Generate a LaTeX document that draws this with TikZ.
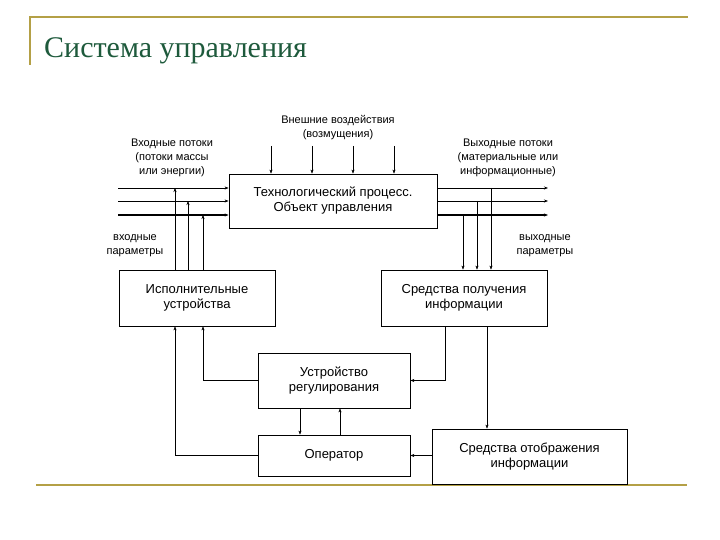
\documentclass[tikz,border=0pt]{standalone}
\usepackage{fontspec}
\setmainfont{Liberation Sans}
\newfontfamily\titlefont{Liberation Serif}
\usetikzlibrary{arrows.meta}
\definecolor{olive}{RGB}{180,160,70}
\definecolor{ttl}{RGB}{30,90,60}
\begin{document}
\begin{tikzpicture}[x=1pt,y=-1pt,
  box/.style={draw,thick,align=center,font=\fontsize{13}{15}\selectfont,inner sep=0pt},
  lbl/.style={align=center,font=\fontsize{11}{14}\selectfont},
  arr/.style={-{Stealth[length=4pt,width=3pt]},thin}]
\useasboundingbox (0,0) rectangle (720,540);
\draw[olive,line width=1.5pt] (30,65) -- (30,17) -- (688,17);
\draw[olive,line width=2pt] (36,485) -- (687,485);
\node[anchor=base west,text=ttl,font=\titlefont\fontsize{30}{32}\selectfont,inner sep=0pt] (t) at (44,58) {Система управления};

\node[box,minimum width=208,minimum height=54] (tp) at (333,201) {Технологический процесс.\\Объект управления};
\node[box,minimum width=156,minimum height=56] (ie) at (197,298) {Исполнительные\\устройства};
\node[box,minimum width=166,minimum height=56] (sp) at (464,298) {Средства получения\\информации};
\node[box,minimum width=152,minimum height=55] (ur) at (334,380.5) {Устройство\\регулирования};
\node[box,minimum width=152,minimum height=41] (op) at (334,455.5) {Оператор};
\node[box,minimum width=195,minimum height=55] (so) at (529.5,456.5) {Средства отображения\\информации};

\node[lbl] (l1) at (338,128) {Внешние воздействия\\(возмущения)};
\node[lbl] (l2) at (172,158) {Входные потоки\\(потоки массы\\или энергии)};
\node[lbl] (l3) at (508,158) {Выходные потоки\\(материальные или\\информационные)};
\node[lbl] (l4) at (135,246) {входные\\параметры};
\node[lbl] (l5) at (545,246) {выходные\\параметры};

\foreach \x/\n in {271/a,312/b,353/c,394/d}{
  \coordinate (d\n) at (\x,146);
  \draw[arr] (d\n) -- (d\n |- tp.north);}
\foreach \y/\w/\n in {188/0.6pt/a,201/0.8pt/b,215/1.3pt/c}{
  \coordinate (in\n) at (118,\y);
  \coordinate (out\n) at (548,\y);
  \draw[arr,line width=\w] (in\n) -- (in\n -| tp.west);
  \draw[arr,line width=\w] (tp.east |- out\n) -- (out\n);}
\foreach \x/\n in {175/a,188/b,203/c}
  \draw[arr] (ie.north -| \x,0) -- (in\n -| \x,0);
\foreach \x/\n in {491/a,477/b,463/c}
  \draw[arr] (out\n -| \x,0) -- (sp.north -| \x,0);

\draw[arr] (sp.south -| 445,0) |- (ur.east);
\draw[arr] (sp.south -| 487,0) -- (so.north -| 487,0);
\draw[arr] (ur.west) -| (ie.south -| 203,0);
\draw[arr] (op.west) -| (ie.south -| 175,0);
\draw[arr] (ur.south -| 300,0) -- (op.north -| 300,0);
\draw[arr] (op.north -| 340,0) -- (ur.south -| 340,0);
\draw[arr] (so.west |- op.east) -- (op.east);
\end{tikzpicture}
\end{document}
